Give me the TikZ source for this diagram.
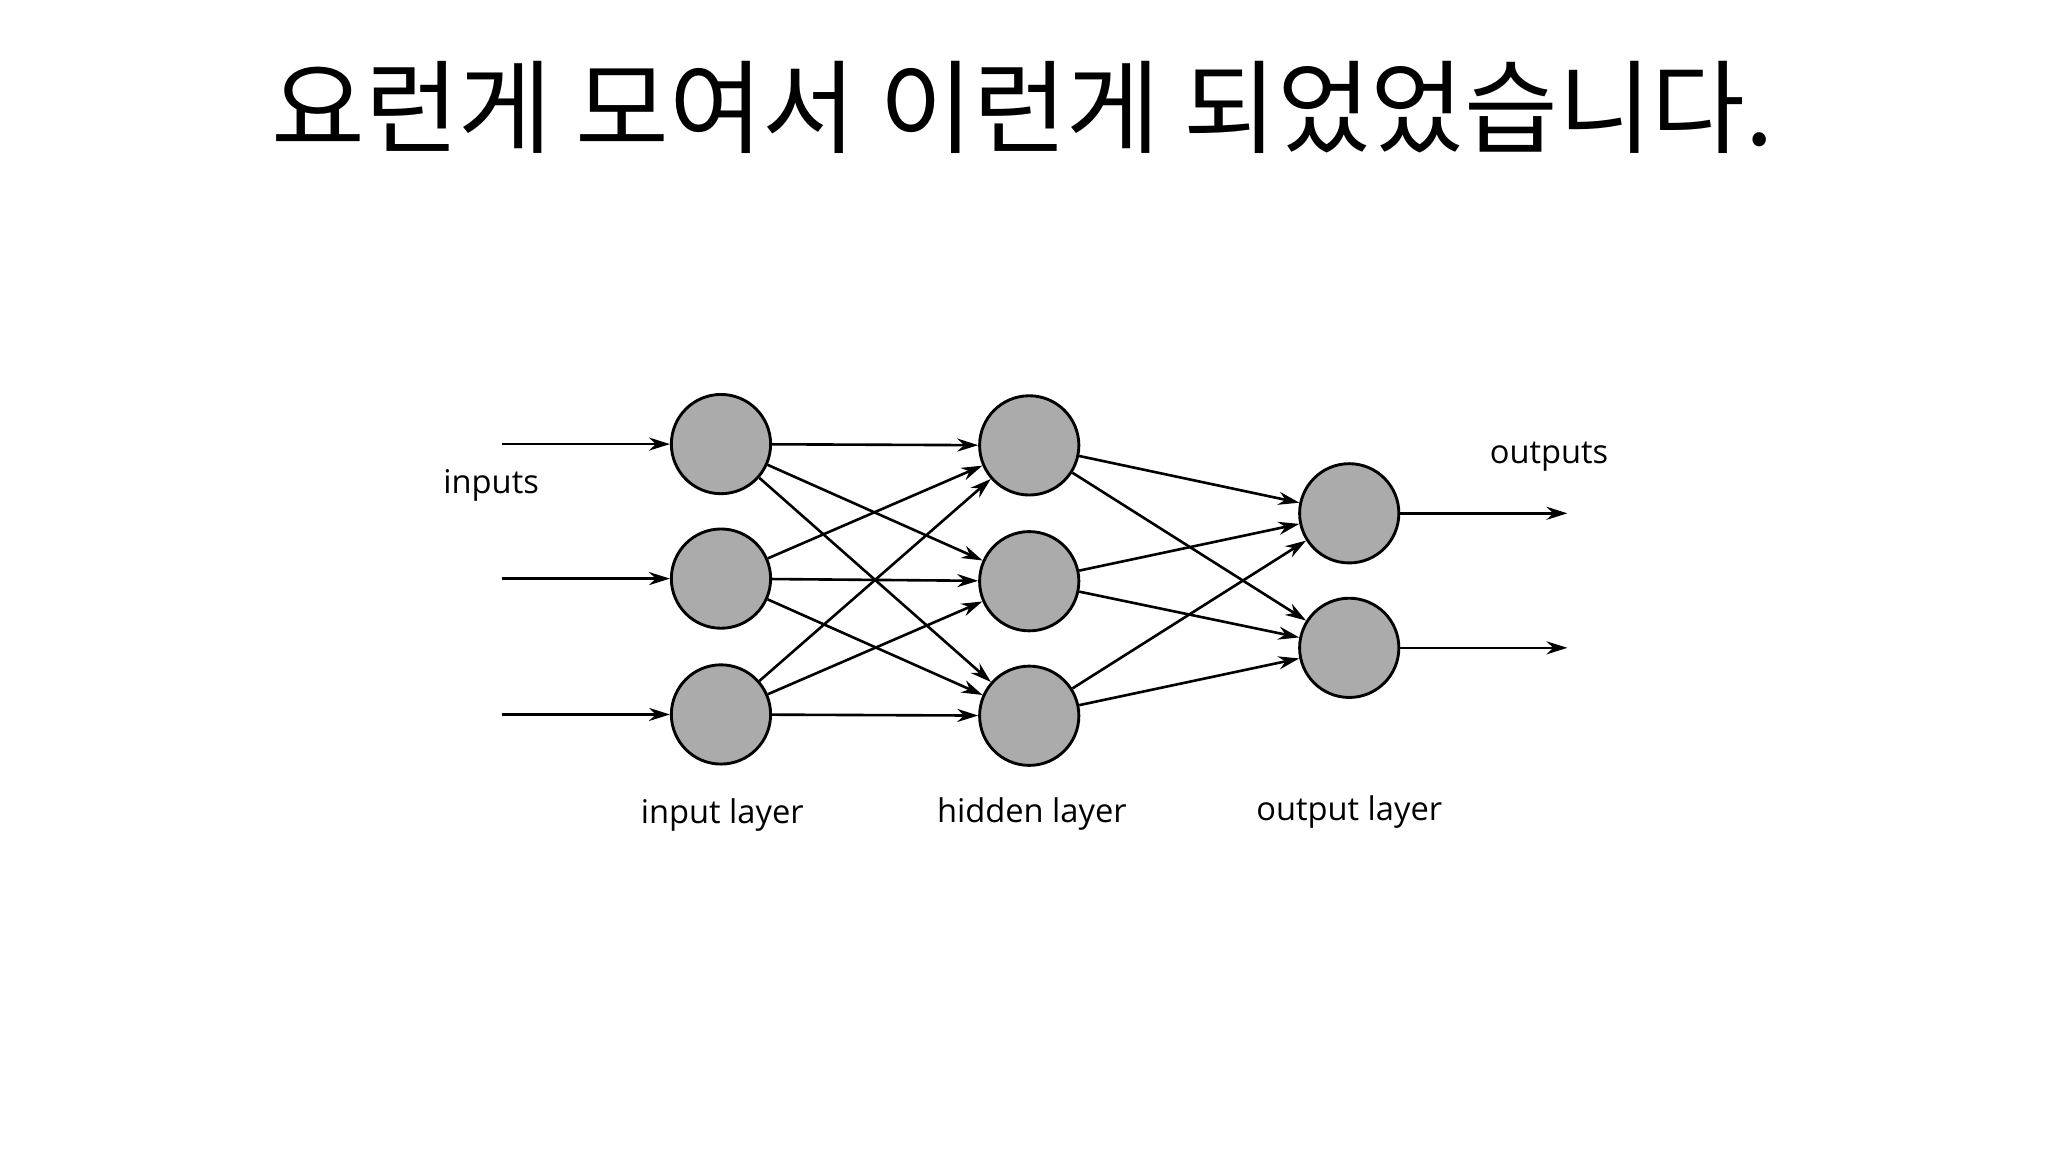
\documentclass[tikz,border=0pt]{standalone}
\usepackage{fontspec}
\setmainfont{Open Sans}
\newfontfamily\kr{Noto Sans CJK KR}
\usetikzlibrary{arrows.meta}
\begin{document}
\begin{tikzpicture}[x=1pt,y=-1pt,
  neuron/.style={circle,draw=black,line width=2.2pt,fill=gray!80!black!55,minimum size=76pt,inner sep=0pt},
  conn/.style={line width=2pt,-{Stealth[length=16pt,width=10pt]}},
  lbl/.style={font=\fontsize{25}{30}\selectfont}]
\useasboundingbox (0,0) rectangle (1568,882);
\node[font=\kr\fontsize{78}{90}\selectfont] (title) at (783,82) {요런게 모여서 이런게 되었었습니다.};
\foreach \i/\y in {1/340,2/443,3/547} {
  \node[neuron] (i\i) at (552,\y) {};
  \coordinate (s\i) at (384,\y);
  \draw[conn] (s\i) -- (i\i);
}
\foreach \i/\y in {1/341,2/445,3/548} \node[neuron] (h\i) at (788,\y) {};
\foreach \i/\y in {1/393,2/496} {
  \node[neuron] (o\i) at (1033,\y) {};
  \coordinate (e\i) at (1200,\y);
  \draw[conn] (o\i) -- (e\i);
}
\foreach \a in {1,2,3} \foreach \b in {1,2,3} \draw[conn] (i\a) -- (h\b);
\foreach \a in {1,2,3} \foreach \b in {1,2} \draw[conn] (h\a) -- (o\b);
\node[lbl] (lin) at (376,372) {inputs};
\node[lbl] (lout) at (1186,350) {outputs};
\node[lbl] (l1) at (553,624) {input layer};
\node[lbl] (l2) at (790,623) {hidden layer};
\node[lbl] (l3) at (1033,622) {output layer};
\end{tikzpicture}
\end{document}
